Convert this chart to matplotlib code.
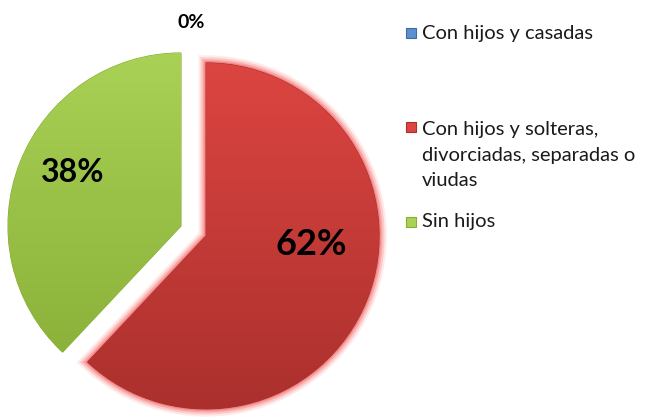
import numpy as np
import matplotlib
matplotlib.use("Agg")
import matplotlib.pyplot as plt
import matplotlib.patheffects as pe
from matplotlib.patches import Rectangle
from matplotlib.colors import LinearSegmentedColormap

plt.rcParams['font.family'] = ['Lato', 'DejaVu Sans']

labels = ["Con hijos y casadas",
          "Con hijos y solteras,\ndivorciadas, separadas o\nviudas",
          "Sin hijos"]
values = [0, 62, 38]
pct_text = ["0%", "62%", "38%"]
colors_top = ["#5b8fd0", "#dc4541", "#a9d155"]
colors_bot = ["#3b6aa6", "#ab302d", "#87ad36"]
explode = [0, 27, 0]

fig = plt.figure(figsize=(6.46, 4.2), dpi=100)
ax = fig.add_axes([0, 0, 1, 1])

R = 173
cx, cy = 181, 194
wedges, _ = ax.pie(values, colors=colors_top, startangle=90, counterclock=False,
                   radius=R, center=(cx, cy), explode=explode,
                   wedgeprops=dict(linewidth=0.8))

# gradient fill
for i, w in enumerate(wedges):
    if values[i] == 0:
        continue
    w.set_edgecolor(colors_bot[i])
    wx, wy = w.center
    cmap = LinearSegmentedColormap.from_list("g", [colors_bot[i], colors_top[i]])
    grad = np.linspace(0, 1, 256).reshape(-1, 1)
    im = ax.imshow(grad, cmap=cmap, origin="lower", aspect="auto",
                   extent=(wx - R, wx + R, wy - R, wy + R), zorder=w.get_zorder() + 0.1)
    im.set_clip_path(w)

# soft glow on the exploded slice
red = wedges[1]
red.set_path_effects([pe.Stroke(linewidth=11, foreground="#ffeaea"),
                      pe.Stroke(linewidth=8, foreground="#fdcaca"),
                      pe.Stroke(linewidth=5, foreground="#f8a5a5"),
                      pe.Stroke(linewidth=2.5, foreground="#f08585"),
                      pe.Normal()])

# percentage labels
dist = [1.18, 0.61, 0.70]
shift = [-3, 17, -4.5]
sizes = [14, 26, 23]
for i, w in enumerate(wedges):
    wx, wy = w.center
    a = np.deg2rad((w.theta1 + w.theta2) / 2 + shift[i])
    ax.text(wx + dist[i] * R * np.cos(a), wy + dist[i] * R * np.sin(a), pct_text[i],
            ha="center", va="center", fontsize=sizes[i], fontweight="bold",
            color="black", zorder=10)

# legend
leg_y = [387, 265, 198]
line_px = 28
for i in range(len(labels)):
    n = labels[i].count("\n") + 1
    my = leg_y[i] + (n - 1) / 2 * line_px
    ax.add_patch(Rectangle((406, my - 5), 10, 10, facecolor=colors_top[i],
                           edgecolor=colors_bot[i], linewidth=0.8, zorder=10))
    ax.text(422, leg_y[i], labels[i], ha="left", va="center",
            fontsize=14.5, color="#1a1a1a", linespacing=1.6, zorder=10)

ax.set_xlim(0, 646)
ax.set_ylim(0, 420)
ax.set_aspect("equal")
ax.axis("off")

fig.savefig("out.png", dpi=100, facecolor="white")
